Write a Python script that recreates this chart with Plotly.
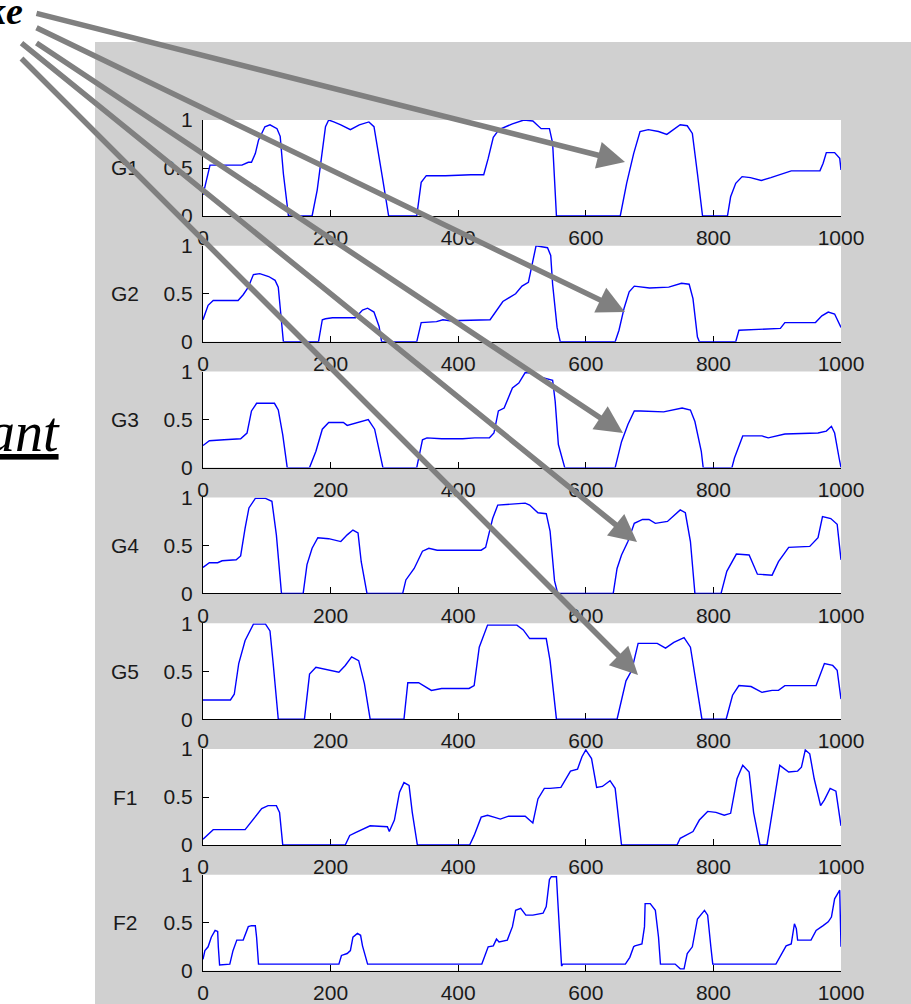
import plotly.graph_objects as go

W, H = 911, 1004

# ---------------- data ----------------
labels = ["G1", "G2", "G3", "G4", "G5", "F1", "F2"]
x_ticks = [0, 200, 400, 600, 800, 1000]
x_tick_text = ["0", "200", "400", "600", "800", "1000"]
y_ticks = [0, 0.5, 1]
y_tick_text = ["0", "0.5", "1"]

g1_x = [0, 5, 11, 18, 61, 71, 76, 82, 87, 97, 105, 116, 121, 126, 134, 171, 179, 192, 197, 205, 216, 231, 245, 260, 268, 281, 291,
        335, 342, 350, 380, 420, 440, 447, 455, 464, 485, 503, 517, 530, 543, 548, 554, 654, 664, 675, 685, 698, 714, 727, 738, 748,
        759, 767, 775, 783, 822, 827, 835, 845, 858, 875, 890, 911, 922, 967, 972, 977, 990, 998, 1000]
g1_y = [0.22, 0.37, 0.53, 0.53, 0.53, 0.56, 0.56, 0.65, 0.79, 0.93, 0.95, 0.91, 0.83, 0.44, 0, 0, 0.27, 0.93, 1.0, 0.98, 0.95, 0.90,
        0.95, 0.98, 0.93, 0.41, 0, 0, 0.35, 0.42, 0.42, 0.43, 0.43, 0.6, 0.82, 0.9, 0.96, 1.0, 0.99, 0.91, 0.91, 0.76, 0, 0, 0.34,
        0.65, 0.88, 0.90, 0.88, 0.85, 0.90, 0.95, 0.94, 0.86, 0.44, 0, 0, 0.20, 0.34, 0.41, 0.40, 0.37, 0.40, 0.45, 0.47, 0.47, 0.55,
        0.66, 0.66, 0.60, 0.48]

g2_x = [0, 8, 16, 55, 63, 71, 79, 89, 103, 113, 118, 121, 126, 181, 187, 192, 203, 218, 239, 250, 258, 268, 276, 280, 335, 342,
        366, 376, 387, 450, 460, 470, 490, 500, 510, 518, 522, 540, 545, 548, 555, 560, 646, 652, 660, 668, 676, 700, 730, 750, 762,
        768, 775, 778, 835, 840, 870, 905, 912, 960, 970, 980, 990, 997, 1000]
g2_y = [0.23, 0.38, 0.43, 0.43, 0.49, 0.57, 0.70, 0.71, 0.68, 0.64, 0.57, 0.33, 0, 0, 0.23, 0.24, 0.25, 0.25, 0.25, 0.33, 0.35,
        0.31, 0.16, 0, 0, 0.20, 0.21, 0.23, 0.22, 0.23, 0.33, 0.42, 0.50, 0.58, 0.62, 0.90, 1.0, 0.98, 0.90, 0.60, 0.15, 0, 0, 0.12,
        0.35, 0.52, 0.58, 0.56, 0.57, 0.61, 0.60, 0.45, 0.05, 0, 0, 0.12, 0.13, 0.14, 0.20, 0.20, 0.27, 0.31, 0.29, 0.20, 0.15]

g3_x = [0, 10, 33, 59, 69, 76, 84, 112, 118, 125, 132, 167, 177, 187, 197, 220, 226, 246, 259, 269, 276, 282, 335, 344, 351, 374,
        407, 426, 449, 456, 463, 472, 485, 495, 505, 521, 531, 548, 552, 557, 567, 646, 656, 666, 676, 686, 722, 751, 764, 771, 781,
        784, 829, 833, 846, 876, 886, 912, 964, 977, 985, 990, 997, 1000]
g3_y = [0.23, 0.28, 0.29, 0.30, 0.36, 0.59, 0.67, 0.67, 0.60, 0.34, 0, 0, 0.17, 0.40, 0.47, 0.47, 0.44, 0.48, 0.50, 0.40, 0.20, 0,
        0, 0.29, 0.31, 0.30, 0.30, 0.31, 0.31, 0.36, 0.59, 0.62, 0.83, 0.88, 0.99, 0.98, 0.94, 0.91, 0.69, 0.24, 0, 0, 0.27, 0.45,
        0.59, 0.59, 0.58, 0.62, 0.60, 0.48, 0.17, 0, 0, 0.10, 0.33, 0.33, 0.31, 0.35, 0.36, 0.38, 0.43, 0.36, 0.10, 0]

g4_x = [0, 10, 23, 30, 52, 59, 66, 72, 82, 98, 108, 115, 123, 157, 163, 171, 180, 197, 216, 226, 235, 243, 248, 257, 313, 318, 331,
        344, 354, 367, 394, 436, 443, 454, 462, 505, 512, 525, 538, 544, 551, 556, 643, 649, 656, 666, 676, 689, 699, 709, 728, 748,
        756, 764, 771, 812, 821, 836, 856, 869, 892, 902, 918, 951, 964, 971, 984, 994, 1000]
g4_y = [0.27, 0.32, 0.32, 0.34, 0.35, 0.39, 0.68, 0.89, 0.99, 0.99, 0.96, 0.61, 0, 0, 0.30, 0.47, 0.58, 0.57, 0.54, 0.61, 0.66,
        0.63, 0.33, 0, 0, 0.14, 0.26, 0.44, 0.47, 0.45, 0.45, 0.45, 0.48, 0.78, 0.92, 0.94, 0.92, 0.84, 0.83, 0.65, 0.13, 0, 0, 0.26,
        0.40, 0.54, 0.73, 0.77, 0.77, 0.73, 0.75, 0.87, 0.84, 0.54, 0, 0, 0.23, 0.41, 0.40, 0.20, 0.19, 0.33, 0.48, 0.49, 0.58, 0.80,
        0.78, 0.72, 0.35]

g5_x = [0, 43, 49, 56, 66, 79, 98, 105, 110, 118, 159, 167, 177, 197, 213, 223, 233, 244, 253, 262, 315, 321, 338, 358, 374, 417,
        425, 433, 446, 492, 502, 512, 538, 544, 554, 649, 663, 672, 682, 712, 725, 738, 754, 764, 774, 782, 820, 830, 840, 859, 876,
        892, 902, 912, 961, 974, 987, 994, 1000]
g5_y = [0.20, 0.20, 0.26, 0.58, 0.82, 0.99, 0.99, 0.92, 0.58, 0, 0, 0.47, 0.54, 0.51, 0.49, 0.56, 0.65, 0.61, 0.37, 0, 0, 0.38,
        0.38, 0.30, 0.32, 0.32, 0.35, 0.75, 0.98, 0.98, 0.93, 0.84, 0.84, 0.61, 0, 0, 0.40, 0.51, 0.79, 0.79, 0.74, 0.80, 0.85, 0.75,
        0.33, 0, 0, 0.25, 0.35, 0.34, 0.28, 0.30, 0.30, 0.35, 0.35, 0.58, 0.56, 0.51, 0.21]

f1_x = [0, 16, 66, 75, 92, 102, 115, 120, 125, 223, 230, 239, 262, 289, 292, 300, 308, 315, 323, 328, 336, 418, 425, 436, 446, 456,
        466, 479, 505, 517, 525, 535, 544, 561, 576, 587, 594, 600, 609, 617, 626, 638, 646, 656, 743, 748, 768, 778, 791, 804, 817,
        827, 837, 846, 856, 863, 873, 884, 896, 904, 918, 932, 938, 944, 951, 958, 968, 974, 983, 992, 1000]
f1_y = [0.06, 0.16, 0.16, 0.24, 0.38, 0.41, 0.41, 0.34, 0, 0, 0.10, 0.13, 0.20, 0.19, 0.14, 0.26, 0.55, 0.65, 0.62, 0.34, 0, 0,
        0.10, 0.29, 0.31, 0.29, 0.27, 0.30, 0.30, 0.23, 0.48, 0.59, 0.59, 0.60, 0.77, 0.79, 0.92, 0.99, 0.90, 0.60, 0.61, 0.67, 0.59,
        0, 0, 0.07, 0.14, 0.26, 0.35, 0.34, 0.31, 0.33, 0.69, 0.83, 0.76, 0.34, 0, 0, 0.48, 0.83, 0.76, 0.77, 0.81, 0.99, 0.95, 0.69,
        0.41, 0.47, 0.59, 0.56, 0.20]

f2_x = [0, 3, 8, 13, 19, 23, 24, 26, 42, 47, 53, 63, 71, 76, 82, 84, 87, 213, 217, 226, 231, 235, 242, 247, 250, 258, 437, 447, 455,
        460, 464, 477, 485, 490, 498, 506, 517, 533, 538, 543, 546, 554, 556, 559, 562, 564, 662, 669, 675, 677, 688, 692, 693, 701,
        709, 714, 717, 740, 748, 754, 759, 767, 775, 786, 791, 796, 799, 898, 904, 914, 922, 927, 930, 932, 953, 961, 972, 980, 985,
        990, 998, 1000]
f2_y = [0.12, 0.21, 0.25, 0.35, 0.42, 0.41, 0.25, 0.06, 0.07, 0.21, 0.32, 0.32, 0.46, 0.47, 0.47, 0.35, 0.07, 0.07, 0.16, 0.18,
        0.21, 0.35, 0.39, 0.37, 0.26, 0.07, 0.07, 0.25, 0.26, 0.33, 0.30, 0.32, 0.46, 0.63, 0.65, 0.58, 0.58, 0.60, 0.67, 0.95, 0.98,
        0.98, 0.74, 0.33, 0.05, 0.07, 0.07, 0.14, 0.25, 0.26, 0.28, 0.46, 0.70, 0.70, 0.63, 0.35, 0.07, 0.07, 0.02, 0.02, 0.18, 0.25,
        0.54, 0.63, 0.58, 0.25, 0.07, 0.07, 0.14, 0.26, 0.28, 0.49, 0.44, 0.32, 0.32, 0.42, 0.47, 0.51, 0.56, 0.75, 0.84, 0.25]

series_x = [g1_x, g2_x, g3_x, g4_x, g5_x, f1_x, f2_x]
series_y = [g1_y, g2_y, g3_y, g4_y, g5_y, f1_y, f2_y]

# arrows: (tail px, head px) in the page
arrow_tails = [(35, 13), (35, 27), (35, 42), (20, 42), (20, 57)]
arrow_heads = [(625, 162), (625, 312), (623, 433), (637, 542), (638, 675)]

# ---------------- layout geometry (pixels) ----------------
X0_PX, X1_PX = 203, 841
TOP0, ROW_H, ROW_STEP = 120, 96, 125.8
GRAY = "#d0d0d0"
TICK_FONT = dict(family="Liberation Sans, Arial, sans-serif", size=21, color="#1a1a1a")


def px_x(p):
    return p / W


def px_y(p):
    return 1 - p / H


fig = go.Figure()
layout = dict(
    template="none",
    width=W, height=H, margin=dict(l=0, r=0, t=0, b=0, pad=0, autoexpand=False),
    paper_bgcolor="white", plot_bgcolor="rgba(0,0,0,0)",
    showlegend=False, shapes=[], annotations=[],
)

# gray figure panel
layout["shapes"].append(dict(type="rect", xref="paper", yref="paper", x0=px_x(95), x1=1.0, y0=0, y1=px_y(42),
                             fillcolor=GRAY, line=dict(width=0), layer="below"))

for i, (lab, xs, ys) in enumerate(zip(labels, series_x, series_y)):
    n = "" if i == 0 else str(i + 1)
    top = TOP0 + i * ROW_STEP
    bot = top + ROW_H
    fig.add_trace(go.Scatter(x=xs, y=ys, mode="lines", line=dict(color="#0000ff", width=1.4),
                             xaxis="x" + n, yaxis="y" + n, hoverinfo="skip"))
    layout["xaxis" + n] = dict(
        domain=[px_x(X0_PX), px_x(X1_PX)], range=[0, 1000], anchor="y" + n, automargin=False,
        tickmode="array", tickvals=x_ticks, ticktext=x_tick_text,
        ticks="inside", ticklen=6, tickcolor="black", tickwidth=1,
        showline=True, linecolor="black", linewidth=1, mirror=False,
        showgrid=False, zeroline=False, tickfont=TICK_FONT, layer="below traces",
        ticklabelstandoff=3,
    )
    layout["yaxis" + n] = dict(
        domain=[px_y(bot), px_y(top)], range=[0, 1], anchor="x" + n, automargin=False,
        tickmode="array", tickvals=y_ticks, ticktext=y_tick_text,
        ticks="inside", ticklen=6, tickcolor="black", tickwidth=1,
        showline=True, linecolor="black", linewidth=1, mirror=False,
        showgrid=False, zeroline=False, tickfont=TICK_FONT, layer="below traces",
        ticklabelstandoff=5,
    )
    # white axes background
    layout["shapes"].append(dict(type="rect", xref="x" + n + " domain", yref="y" + n + " domain",
                                 x0=0, x1=1.0, y0=0, y1=1, fillcolor="white", line=dict(width=0), layer="below"))
    # row label
    layout["annotations"].append(dict(text=lab, xref="paper", yref="paper", x=px_x(125), y=px_y((top + bot) / 2),
                                      xanchor="center", yanchor="middle", showarrow=False, font=TICK_FONT))

# arrows
for (tx, ty), (hx, hy) in zip(arrow_tails, arrow_heads):
    layout["annotations"].append(dict(
        text="", xref="paper", yref="paper", x=px_x(hx), y=px_y(hy),
        ax=tx - hx, ay=ty - hy, axref="pixel", ayref="pixel",
        showarrow=True, arrowhead=2, arrowsize=1, arrowwidth=5.5, arrowcolor="#808080", standoff=0,
    ))

# slide text fragments
layout["annotations"].append(dict(text="<b><i>ke</i></b>", xref="paper", yref="paper", x=px_x(25), y=px_y(11),
                                  xanchor="right", yanchor="middle", showarrow=False,
                                  font=dict(family="Liberation Serif, Times New Roman, serif", size=38, color="black")))
layout["annotations"].append(dict(text="<i>ant</i>", xref="paper", yref="paper", x=px_x(62), y=px_y(432),
                                  xanchor="right", yanchor="middle", showarrow=False,
                                  font=dict(family="Liberation Serif, Times New Roman, serif", size=56, color="black",
                                            lineposition="under")))

fig.update_layout(**layout)
fig.write_html("out.html", config={"displayModeBar": False},
               post_script="document.body.style.margin='0';document.body.style.overflow='hidden';")
